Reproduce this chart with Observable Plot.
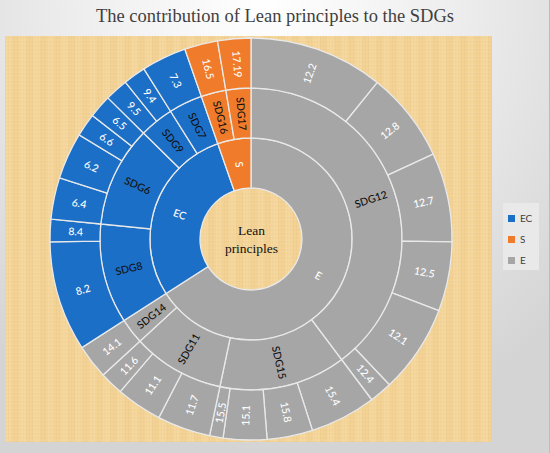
<!DOCTYPE html>
<html><head><meta charset="utf-8">
<script src="https://cdn.jsdelivr.net/npm/d3@7"></script>
<script src="https://cdn.jsdelivr.net/npm/@observablehq/plot@0.6"></script>
<style>
html,body{margin:0;padding:0;}
#wrap{position:relative;width:550px;height:453px;overflow:hidden;
 background: radial-gradient(ellipse 75% 100% at 48% 0%, #ffffff 0%, #eeeeee 45%, #d4d4d4 100%);}
#edge{position:absolute;right:0;top:0;width:1px;height:453px;background:#9fd39a;}
#tex{position:absolute;left:5px;top:36px;width:487px;height:406px;background-color:#f4d497;
 background-image:
  repeating-linear-gradient(90deg, rgba(205,160,90,0.07) 0 1px, rgba(255,255,255,0) 1px 3px),
  repeating-linear-gradient(0deg, rgba(205,160,90,0.06) 0 1px, rgba(255,255,255,0.05) 1px 2px, rgba(255,255,255,0) 2px 4px),
  repeating-linear-gradient(90deg, rgba(255,240,210,0.10) 0 7px, rgba(220,175,105,0.06) 7px 14px);}
#title{position:absolute;left:0;top:6px;width:550px;text-align:center;font-family:"Liberation Serif",serif;font-size:18.5px;color:#3f3f3f;white-space:nowrap;}
#chart{position:absolute;left:0;top:0;}
#legend{position:absolute;left:503px;top:203px;width:36px;height:67px;background:#e9e9e9;box-sizing:border-box;padding:9px 0 0 5px;}
#legend .lg-swatch{padding-bottom:9px !important;}
</style></head><body>
<div id="wrap"><div id="tex"></div><div id="edge"></div>
<div id="title">The contribution of Lean principles to the SDGs</div>
<div id="chart"></div><div id="legend"></div></div>
<script>
// ---- data ----
const groups = ["EC", "S", "E"];                    // legend order
const groupColors = ["#1b6fc7", "#f07c2b", "#a6a6a6"];
const sdgs = ["SDG12","SDG15","SDG11","SDG14","SDG8","SDG6","SDG9","SDG7","SDG16","SDG17"];
const sdgGroup = ["E","E","E","E","EC","EC","EC","EC","S","S"];
const targets = ["12.2","12.8","12.7","12.5","12.1","12.4","15.4","15.8","15.1","15.5","11.7","11.1","11.6","14.1",
                 "8.2","8.4","6.4","6.2","6.6","6.5","9.5","9.4","7.3","16.5","17.19"];
const targetSdg = ["SDG12","SDG12","SDG12","SDG12","SDG12","SDG12","SDG15","SDG15","SDG15","SDG15","SDG11","SDG11","SDG11","SDG14",
                   "SDG8","SDG8","SDG6","SDG6","SDG6","SDG6","SDG9","SDG9","SDG7","SDG16","SDG17"];
const targetShare = [38.9,26.1,25.8,20.1,25.6,6.6,19.1,13.2,12.6,3.9,15.4,13.3,6.8,9.9,
                     31.9,6.5,12.0,13.5,6.7,6.7,6.7,6.5,13.0,9.6,9.6];
const centerLabel = "Lean\nprinciples";
const titleText = "The contribution of Lean principles to the SDGs";
document.getElementById("title").textContent = titleText;

// ---- build the hierarchy (clockwise from 12 o'clock) ----
const total = d3.sum(targetShare);
let acc = 0;
const leaves = targets.map((t, i) => {
  const a0 = acc / total * 360; acc += targetShare[i]; const a1 = acc / total * 360;
  const sdg = targetSdg[i];
  return {label: t, a0, a1, depth: 3, sdg, group: sdgGroup[sdgs.indexOf(sdg)]};
});
const sdgNodes = sdgs.map((s, j) => {
  const ls = leaves.filter(d => d.sdg === s);
  return {label: s, a0: d3.min(ls, d => d.a0), a1: d3.max(ls, d => d.a1), depth: 2, group: sdgGroup[j]};
});
const groupOrder = ["E", "EC", "S"];
const groupNodes = groupOrder.map(g => {
  const ls = leaves.filter(d => d.group === g);
  return {label: g, a0: d3.min(ls, d => d.a0), a1: d3.max(ls, d => d.a1), depth: 1, group: g};
});
const nodes = [...groupNodes, ...sdgNodes, ...leaves];
const withLabel = d => {
  const m = (d.a0 + d.a1) / 2;
  return {...d, am: m, rm: d.depth + 0.5, rot: m < 180 ? m - 90 : m - 270};
};
const whiteLabels = [...groupNodes, ...leaves].map(withLabel);
const darkLabels = sdgNodes.map(withLabel);

// ---- polar renderers using Plot's scales (x = angle, y = radius) ----
const CX = 251, CY = 239;
function arcRender(index, scales, values) {
  const {x1, x2, y1, y2, fill} = values;
  const arc = d3.arc();
  const g = d3.create("svg:g").attr("transform", `translate(${CX},${CY})`);
  g.selectAll("path").data(Array.from(index)).join("path")
    .attr("d", i => arc({startAngle: x1[i], endAngle: x2[i], innerRadius: y1[i], outerRadius: y2[i]}))
    .attr("fill", i => fill[i])
    .attr("stroke", "#e9e9e9").attr("stroke-width", 1.3);
  return g.node();
}
function polarText(index, scales, values, dimensions, context, next) {
  const X = values.x, Y = values.y, n = X.length;
  const px = new Float64Array(n), py = new Float64Array(n);
  for (const i of index) { px[i] = CX + Y[i] * Math.sin(X[i]); py[i] = CY - Y[i] * Math.cos(X[i]); }
  return next(index, scales, {...values, x: px, y: py}, dimensions, context);
}

const chart = Plot.plot({
  width: 550, height: 453,
  margin: 0,
  style: {background: "none", overflow: "visible"},
  x: {domain: [0, 360], range: [0, 2 * Math.PI], axis: null},
  y: {domain: [0, 4], range: [1, 201], axis: null},
  color: {domain: groups, range: groupColors},
  marks: [
    Plot.rect(nodes, {x1: "a0", x2: "a1", y1: "depth", y2: d => d.depth + 1, fill: "group", render: arcRender}),
    Plot.text(whiteLabels, {x: "am", y: "rm", text: "label", rotate: "rot", fill: "white",
      fontFamily: "Lato", fontSize: 10.5, fontWeight: 500, render: polarText}),
    Plot.text(darkLabels, {x: "am", y: "rm", text: "label", rotate: "rot", fill: "#111",
      fontFamily: "Lato", fontSize: 10.5, fontWeight: 500, render: polarText}),
    Plot.text([centerLabel], {x: () => 0, y: () => 0, text: d => d, fill: "#111",
      fontFamily: "Liberation Serif", fontSize: 13.5, lineHeight: 1.35, render: polarText})
  ]
});
document.getElementById("chart").append(chart);

const legend = Plot.legend({
  color: {domain: groups, range: groupColors},
  columns: 1, swatchSize: 7, className: "lg",
  style: {fontFamily: "Lato", fontSize: "10px", color: "#404040", background: "none", margin: 0}
});
document.getElementById("legend").append(legend);
</script>
</body></html>
